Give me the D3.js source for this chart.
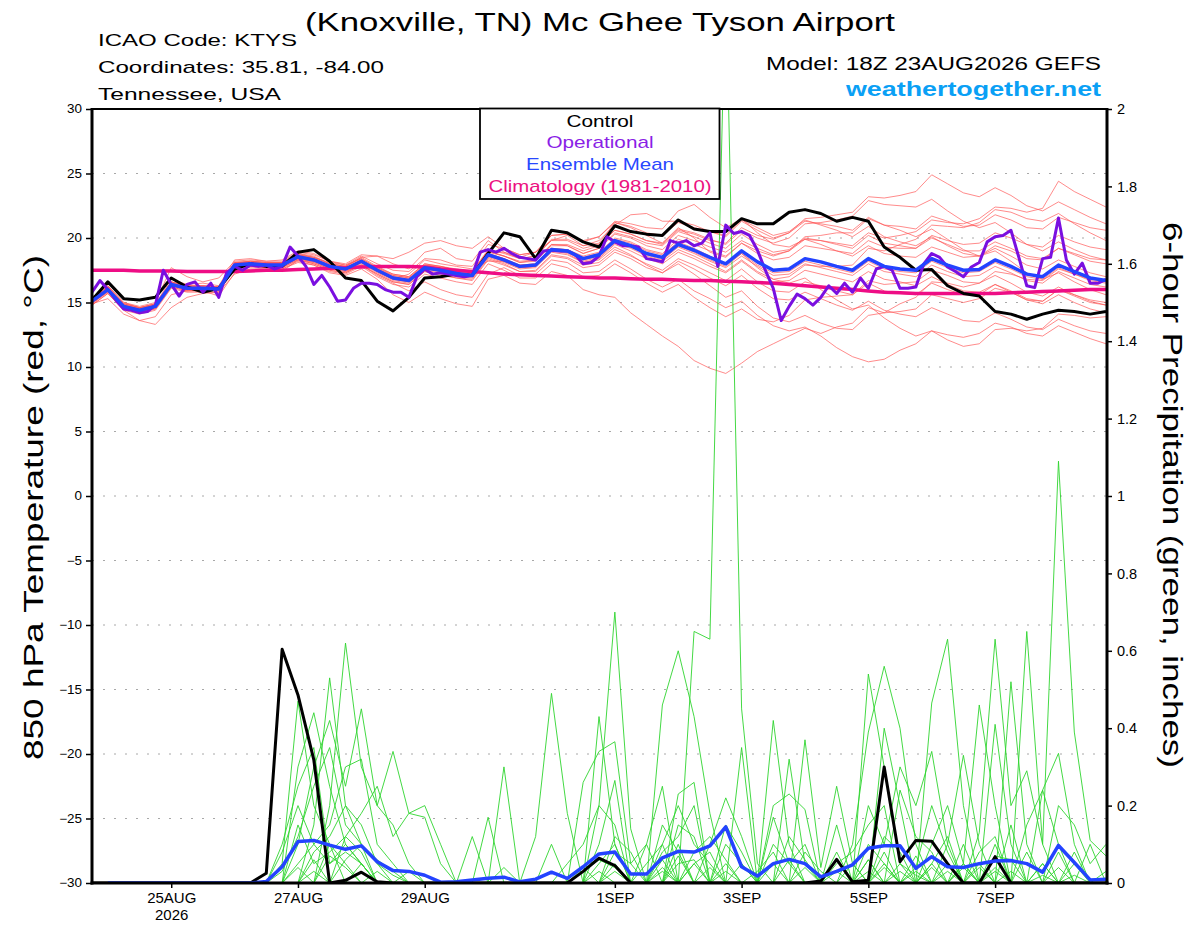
<!DOCTYPE html>
<html>
<head>
<meta charset="utf-8">
<script src="https://cdn.jsdelivr.net/npm/d3@7"></script>
<style>
  body { margin: 0; background: #fff; }
  svg { display: block; font-family: "Liberation Sans", Arial, sans-serif; }
</style>
</head>
<body>
<div id="chart"></div>
<script>
const width = 1200;
const height = 927;

// model run and time steps
const modelRun = Date.UTC(2026, 7, 23, 18);
const modelEnd = Date.UTC(2026, 8, 8, 18);
const stepHours = 6;
const opStepHours = 3;

const tempTicks = [-30, -25, -20, -15, -10, -5, 0, 5, 10, 15, 20, 25, 30];
const precipTicks = [0, 0.2, 0.4, 0.6, 0.8, 1, 1.2, 1.4, 1.6, 1.8, 2];
const dateTicks = ["2026-08-25", "2026-08-27", "2026-08-29", "2026-09-01", "2026-09-03", "2026-09-05", "2026-09-07"];

// 850 hPa temperature, 6-hourly
const controlTemp = [
  15.2,16.6,15.3,15.2,15.4,16.9,16.2,15.8,16.1,17.6,18.0,17.8,17.8,
  18.9,19.1,18.2,16.9,16.7,15.1,14.35,15.4,16.9,17.0,17.2,17.1,18.8,
  20.4,20.1,18.4,20.6,20.4,19.7,19.3,20.95,20.5,20.3,20.2,21.4,20.7,
  20.5,20.5,21.5,21.1,21.1,22.0,22.2,21.9,21.3,21.6,21.3,19.3,18.5,
  17.5,17.55,16.3,15.7,15.5,14.3,14.1,13.7,14.1,14.4,14.3,14.1,14.3
];
const meanTemp = [
  15.1,16.0,14.7,14.4,14.7,16.4,16.1,16.1,16.05,17.9,18.0,17.9,17.9,
  18.55,18.3,17.8,17.6,18.2,17.5,16.9,16.7,17.7,17.5,17.25,17.1,18.7,
  18.3,17.8,17.9,19.1,19.0,18.4,18.7,19.8,19.4,18.8,18.5,19.5,19.05,
  18.5,18.0,19.0,18.15,17.5,17.6,18.4,18.15,17.8,17.5,18.4,17.8,17.6,
  17.5,18.4,17.9,17.5,17.55,18.3,17.8,17.2,17.0,17.9,17.4,16.9,16.7
];
const climoTemp = [
  17.5,17.5,17.5,17.45,17.45,17.45,17.4,17.4,17.4,17.4,17.45,17.5,17.5,
  17.55,17.6,17.65,17.7,17.75,17.8,17.8,17.8,17.75,17.6,17.5,17.4,17.3,
  17.2,17.15,17.1,17.05,17.0,16.95,16.9,16.9,16.85,16.8,16.8,16.75,16.7,
  16.7,16.65,16.6,16.55,16.5,16.4,16.3,16.2,16.1,16.0,15.9,15.8,15.75,
  15.7,15.7,15.7,15.7,15.7,15.7,15.75,15.8,15.85,15.9,15.95,16.0,16.0
];
// operational run, 3-hourly (one row per day)
const operTemp = [
  15.8,16.7,16.0,15.2,14.5,14.4,14.2,14.3,
  14.8,17.5,16.4,15.5,16.4,16.6,15.8,16.5,
  15.4,17.3,17.8,17.5,17.9,17.8,17.9,17.6,
  17.8,19.3,18.6,17.8,16.4,17.1,16.2,15.1,
  15.2,16.1,16.5,16.5,16.4,16.0,15.8,15.8,
  15.4,17.0,17.6,17.2,17.3,17.2,17.1,17.0,
  17.1,18.9,19.1,18.9,19.2,18.8,18.5,18.4,
  18.3,19.0,19.05,19.0,19.0,18.7,18.0,18.1,
  18.6,20.1,19.7,19.4,19.4,19.3,18.4,18.3,
  18.15,19.8,19.6,19.8,19.4,19.6,20.4,17.8,
  21.0,20.35,20.5,20.2,19.05,17.5,16.1,13.6,
  14.7,15.65,15.3,14.8,15.4,16.3,15.7,16.5,
  15.8,16.9,16.1,17.6,17.8,17.5,16.1,16.1,
  16.2,18.0,18.8,18.5,17.75,17.4,17.0,17.75,
  18.1,19.7,20.1,20.2,20.6,18.5,16.3,16.15,
  18.4,18.5,21.55,18.3,17.2,18.05,16.5,16.5,
  16.8
];

const tempMembers = [
  [15.4,16.3,15.0,14.6,14.9,16.8,16.4,16.5,16.3,18.3,18.4,18.2,18.3,
   19.0,18.8,18.2,17.9,18.6,18.0,17.5,17.4,18.4,18.3,17.9,17.8,19.5,
   19.2,18.7,18.9,20.2,20.3,19.8,20.1,21.2,20.9,20.4,20.2,21.2,20.8,
   20.5,20.1,21.3,20.6,20.0,20.4,21.3,21.1,20.9,20.6,21.6,21.0,20.9,
   20.7,21.7,21.3,20.9,21.0,21.8,21.4,20.8,20.7,21.6,21.2,20.8,20.6],
  [14.8,15.7,14.4,13.6,13.3,14.6,15.4,15.7,15.8,17.2,17.6,17.5,17.6,
   18.1,17.9,17.3,17.1,17.6,16.8,15.6,15.0,15.8,15.3,14.9,14.7,16.8,
   17.1,16.5,16.4,17.4,17.1,16.0,15.6,15.4,14.2,13.3,12.4,11.6,10.5,
   9.9,9.5,10.3,11.2,11.8,12.4,13.0,12.6,13.1,13.4,14.6,14.2,14.3,
   14.5,15.6,15.3,15.0,15.3,16.1,15.8,15.2,15.1,16.0,15.6,15.2,15.0],
  [15.0,15.8,14.6,14.3,14.5,16.2,15.9,16.0,15.9,17.7,17.9,17.7,17.7,
   18.3,18.0,17.5,17.3,17.9,17.1,16.5,15.9,16.6,16.0,15.6,15.4,17.2,
   17.7,17.1,17.2,18.3,18.1,17.3,17.4,18.3,17.6,16.8,16.2,16.8,15.9,
   15.3,14.6,15.1,14.0,13.2,12.8,13.1,12.4,11.5,10.8,10.4,10.6,11.3,
   11.8,12.8,12.5,12.3,12.6,13.4,13.1,12.6,12.4,13.2,12.7,12.2,11.8],
  [15.2,16.1,14.9,14.6,14.8,16.5,16.2,16.3,16.2,18.1,18.1,18.0,18.1,
   18.8,18.5,18.0,17.8,18.5,18.6,18.0,17.6,18.9,19.2,18.4,18.2,19.8,
   18.9,18.4,18.6,19.8,19.8,19.2,19.5,20.6,20.3,19.8,19.5,20.6,20.3,
   19.8,19.6,20.8,20.2,19.9,20.4,21.5,21.6,21.8,22.0,23.2,23.1,23.3,
   23.6,24.9,24.2,23.5,23.2,23.9,23.3,22.5,22.1,22.8,22.2,21.6,21.1],
  [15.3,16.2,14.8,14.5,14.8,16.6,16.3,16.2,16.2,18.0,18.2,18.1,18.0,
   18.7,18.5,18.1,17.9,18.4,17.7,17.2,17.0,18.0,17.8,17.5,17.4,19.0,
   18.6,18.2,18.3,19.5,19.4,18.8,19.2,20.3,20.0,19.4,19.1,20.2,19.8,
   19.3,18.9,19.8,19.2,18.7,19.0,19.9,19.8,19.6,19.4,20.4,20.0,20.2,
   20.5,21.4,21.2,21.1,21.5,22.4,22.3,22.0,22.3,24.4,23.6,23.0,22.4],
  [14.9,15.3,14.1,13.6,13.9,15.6,15.9,15.9,15.5,17.3,17.8,17.7,17.4,
   18.3,18.1,17.6,17.4,17.9,17.2,16.6,16.4,17.4,17.2,16.9,16.8,18.4,
   18.0,17.4,17.5,18.7,18.5,17.9,18.1,19.1,18.6,18.0,17.5,18.4,17.9,
   17.3,16.7,17.6,16.6,15.9,15.8,16.6,16.3,15.9,15.6,16.5,15.9,15.7,
   15.6,16.5,16.0,15.6,15.6,16.4,15.9,15.3,15.1,16.0,15.5,15.0,14.8],
  [15.3,16.2,14.9,14.6,14.9,16.6,16.3,16.3,16.2,18.1,18.2,18.1,18.1,
   18.8,18.6,18.0,17.8,18.5,17.8,17.2,17.0,18.0,17.8,17.6,17.4,19.0,
   18.6,18.1,18.2,19.4,19.4,18.8,19.2,20.4,20.1,19.6,19.4,20.5,20.1,
   19.6,19.2,20.3,19.5,18.9,19.1,20.0,19.8,19.5,19.2,20.2,19.6,19.4,
   19.2,20.0,19.5,19.0,19.0,19.7,19.2,18.6,18.4,19.2,18.7,18.2,18.0],
  [15.0,15.9,14.6,14.3,14.6,16.3,16.0,16.0,16.0,17.8,17.9,17.8,17.8,
   18.4,18.2,17.7,17.5,18.1,17.4,16.8,16.6,17.6,17.4,17.1,17.0,18.6,
   18.2,17.7,17.8,19.0,18.8,18.1,18.3,19.3,18.7,17.9,17.3,18.0,17.2,
   16.3,15.4,15.9,14.7,13.8,13.5,14.0,13.4,13.0,12.9,14.0,14.2,14.9,
   15.4,16.6,16.5,16.2,16.5,17.4,17.2,16.8,16.7,17.6,17.2,16.8,16.6],
  [15.2,16.0,14.8,14.5,14.8,16.5,16.2,16.2,16.1,18.0,18.1,18.0,18.0,
   18.7,18.4,17.9,17.7,18.3,17.6,17.1,16.9,17.9,17.8,17.5,17.4,19.1,
   18.8,18.4,18.6,19.9,19.9,19.4,19.8,21.0,21.8,21.9,21.3,21.3,21.0,
   20.5,20.2,21.4,20.8,20.2,20.5,21.4,21.0,20.6,20.1,20.9,20.1,19.7,
   19.4,20.1,19.4,18.8,18.6,19.2,18.6,17.9,17.6,18.3,17.8,17.3,17.0],
  [14.9,15.8,14.5,14.2,14.5,16.2,15.9,15.9,15.9,17.7,17.8,17.7,17.7,
   18.3,18.0,17.5,17.3,17.9,17.2,16.6,16.4,17.4,17.1,16.9,16.7,18.3,
   17.9,17.4,17.4,18.6,18.4,17.7,17.9,18.9,18.4,17.7,17.3,18.2,17.6,
   16.9,16.3,17.1,16.1,15.3,15.2,15.8,15.3,14.8,14.4,15.1,14.4,14.1,
   13.9,14.6,14.1,13.6,13.5,14.2,13.7,13.1,12.9,13.7,13.2,12.8,12.6],
  [15.4,16.3,15.0,14.7,15.0,17.7,17.0,16.6,16.9,18.2,18.3,18.2,18.2,
   18.9,18.7,18.2,18.0,18.7,18.6,18.4,18.9,19.6,19.8,19.4,19.2,20.1,
   19.2,18.7,18.9,20.2,20.3,19.7,20.1,21.3,21.1,20.8,20.7,22.1,22.6,
   21.6,20.8,21.5,20.4,19.5,19.3,19.9,19.5,19.0,18.6,19.4,18.8,18.6,
   18.5,19.3,18.9,18.5,18.6,19.4,19.0,18.4,18.3,19.2,18.8,18.4,18.3],
  [15.1,16.0,14.7,14.4,14.7,16.4,16.1,16.1,16.0,17.9,18.0,17.9,17.9,
   18.5,18.3,17.8,17.6,18.2,17.5,16.9,16.7,17.7,17.5,17.2,17.1,18.7,
   18.3,17.8,17.9,19.1,19.0,18.4,18.7,19.8,19.4,18.8,18.4,19.4,18.9,
   18.3,17.8,18.8,17.9,17.3,17.4,18.2,17.9,17.6,17.3,18.2,17.6,17.4,
   17.3,18.2,17.7,17.3,17.4,18.1,17.6,17.0,16.8,17.7,17.2,16.7,16.5],
  [15.0,15.9,14.6,14.3,14.6,16.3,16.0,16.0,16.0,17.8,17.9,17.8,17.8,
   18.4,18.2,17.7,17.5,18.1,17.4,16.8,17.2,18.3,18.0,17.8,17.6,18.2,
   18.2,17.7,17.8,19.0,18.9,18.2,18.5,19.6,19.2,18.6,18.2,19.1,18.6,
   18.0,17.4,18.3,17.4,16.8,17.0,17.9,17.8,17.8,17.9,19.2,19.0,19.5,
   19.9,21.0,20.9,20.8,21.2,22.2,22.0,21.5,21.3,21.9,21.1,20.4,19.8],
  [15.1,16.0,14.7,14.4,14.7,16.4,16.1,16.1,16.1,17.9,18.0,17.9,17.9,
   18.6,18.3,17.8,17.6,18.2,17.5,16.9,16.7,17.7,17.5,17.3,17.2,18.8,
   18.4,17.9,18.0,19.2,19.1,18.5,18.8,19.9,19.6,19.0,18.7,19.7,19.2,
   18.6,18.0,18.8,17.7,16.8,16.5,16.9,16.0,15.2,14.5,14.8,13.8,13.0,
   12.4,12.8,12.1,11.6,11.8,12.9,13.0,12.8,13.0,14.1,14.0,13.8,13.9],
  [15.2,16.1,14.8,14.5,14.8,16.5,16.2,16.2,16.1,18.0,18.1,18.0,18.0,
   18.6,18.4,17.9,17.7,18.3,17.6,17.0,16.8,17.8,17.6,17.4,17.2,18.8,
   18.4,17.9,18.0,19.2,19.1,18.6,18.9,20.0,19.7,19.1,18.8,19.9,19.5,
   19.0,18.6,19.6,18.8,18.3,18.5,19.4,19.2,19.0,18.8,19.8,19.3,19.2,
   19.2,20.2,19.8,19.5,19.6,20.4,20.0,19.5,19.3,20.2,19.7,19.3,19.1],
  [14.8,15.7,14.4,14.1,14.4,16.1,15.8,15.8,15.8,17.6,17.7,17.6,17.6,
   18.2,17.9,17.4,17.2,17.8,17.0,16.4,16.2,17.2,16.9,16.6,16.4,18.0,
   17.5,16.9,16.9,18.0,17.7,17.0,17.1,18.0,17.3,16.5,15.8,16.4,15.4,
   14.6,13.9,14.5,13.7,13.5,14.0,15.2,15.4,15.5,15.6,16.7,16.4,16.5,
   16.6,17.5,17.1,16.6,16.5,17.1,16.5,15.8,15.5,16.2,15.6,15.1,14.8],
  [15.3,16.2,14.9,14.6,14.9,16.6,16.3,16.3,16.2,18.1,18.2,18.1,18.1,
   18.7,18.5,18.0,17.8,18.4,17.7,17.1,16.9,17.9,17.7,17.4,17.3,18.9,
   18.9,18.5,18.9,19.8,20.2,19.4,19.6,21.2,20.8,20.2,19.6,20.8,20.0,
   18.9,18.5,19.6,19.0,18.6,19.0,20.1,20.2,20.4,20.4,21.5,21.0,20.6,
   20.1,20.7,19.9,19.1,18.6,19.0,18.2,17.3,16.8,17.3,16.6,16.0,15.6],
  [15.0,15.9,14.6,14.3,14.6,16.3,16.0,16.0,15.9,17.8,17.9,17.8,17.8,
   18.4,18.1,17.6,17.4,18.0,17.3,16.7,16.5,17.5,17.3,17.0,16.9,18.5,
   18.1,17.6,17.7,18.9,18.7,18.1,18.4,19.5,19.0,18.4,18.0,18.9,18.4,
   17.8,17.3,18.2,17.3,16.6,16.7,17.5,17.2,16.9,16.6,17.4,16.8,16.6,
   16.3,17.0,16.4,15.9,15.8,16.4,15.8,15.2,14.9,15.6,15.0,14.5,14.2],
  [15.2,16.1,14.8,14.5,14.8,16.5,16.2,16.2,16.1,18.0,18.1,18.0,18.0,
   18.6,18.4,17.9,17.7,18.3,17.6,17.0,16.8,17.8,17.7,17.4,17.3,18.9,
   18.6,18.1,18.3,19.5,19.5,19.0,19.4,20.6,20.3,19.8,19.6,20.7,20.4,
   19.9,19.5,20.6,20.0,19.6,20.0,21.1,21.2,21.4,21.7,22.9,22.6,22.5,
   22.4,23.0,22.1,21.3,20.8,21.2,20.4,19.5,19.0,19.7,19.1,18.6,18.3],
  [14.9,15.9,14.6,14.3,14.6,16.3,16.0,16.0,16.0,17.8,17.9,17.8,17.8,
   18.4,18.2,17.7,17.5,18.1,17.4,16.8,16.6,17.6,17.4,17.1,17.0,18.6,
   18.2,17.7,17.8,19.0,18.9,18.3,18.6,19.7,19.3,18.7,18.3,19.3,18.8,
   18.2,17.7,18.6,17.8,17.1,17.2,18.0,17.7,17.4,17.1,18.0,17.4,17.2,
   17.0,17.9,17.4,17.0,17.1,17.8,17.3,16.7,16.5,17.4,16.9,16.4,16.2]
];

// 6-hour precipitation (inches)
const controlPrecip = [
  0,0,0,0,0,0,0,0,0,0,0,.025,.604,
  .486,.318,0,.007,.028,.003,0,0,0,0,0,0,0,
  0,0,0,0,0,.03,.064,.045,0,0,0,0,0,
  0,0,0,0,0,0,0,.005,.061,.003,.007,.3,.055,
  .11,.108,.05,0,0,.068,0,0,0,0,0,0,0
];
const meanPrecip = [
  null,0,0,0,0,0,0,0,0,0,0,.004,.042,
  .107,.11,.098,.087,.096,.055,.032,.03,.02,.002,.003,.008,.012,
  .015,.003,.01,.028,.012,.042,.075,.08,.023,.023,.065,.082,.08,
  .096,.145,.042,.018,.05,.061,.05,.016,.03,.047,.09,.096,.096,
  .038,.068,.042,.04,.05,.057,.058,.05,.028,.097,.053,.008,.01
];
const precipMembers = [
  [0,0,0,0,0,0,0,0,0,0,0,0,.05,
   .47,.2,.1,.05,0,0,0,0,0,0,0,0,0,
   .3,0,0,.1,0,0,.2,.7,.14,0,.1,0,0,
   0,0,.35,0,.42,.1,0,0,.15,0,.54,.3,.05,
   0,0,.1,0,0,.41,.1,0,0,0,0,0,0],
  [0,0,0,0,0,0,0,0,0,0,0,0,0,
   .3,.44,.25,.1,.05,0,0,0,0,0,0,0,.17,
   0,0,.12,.49,.18,0,.43,.1,0,0,0,.23,.26,
   0,0,0,0,0,.32,.05,0,0,.1,.39,.56,.4,
   .1,0,0,.05,.46,.2,0,0,.24,.1,0,0,0],
  [0,0,0,0,0,0,0,0,0,0,0,0,0,
   0,.15,.53,.2,.1,0,0,0,0,0,0,.12,0,
   0,0,0,0,0,.26,.34,.365,.05,0,.46,.6,.43,
   .18,0,0,0,0,0,.37,.04,.25,.05,0,.4,.2,
   0,.465,.63,.2,0,0,.52,.1,0,0,0,0,0],
  [0,0,0,0,0,0,0,0,0,0,0,0,0,
   0,0,.2,.62,.3,.2,.15,.05,0,0,0,0,0,
   0,0,0,0,0,0,.1,.265,0,.1,.25,0,.65,
   .63,2.35,.45,.05,0,0,0,0,0,0,.2,.1,.3,
   .2,.34,.1,.33,.1,0,0,.65,.1,0,0,0,0],
  [0,0,0,0,0,0,0,0,0,0,0,0,0,
   .1,.3,.42,.25,.45,.2,.34,.18,.2,.1,0,0,0,
   0,0,0,0,.05,.1,.2,.15,0,0,0,.1,0,
   .1,.22,.12,0,.2,.23,.19,0,0,0,0,0,.24,
   .12,.08,0,0,.13,.63,.2,.29,.1,1.09,.39,.11,.07],
  [0,0,0,0,0,0,0,0,0,0,0,0,.08,
   .2,.1,.15,.3,.32,.1,.05,0,0,0,0,0,0,
   0,0,0,0,0,0,0,.08,.05,.1,0,.15,.12,
   0,0,0,0,.17,.05,.1,0,.05,.08,.15,.2,0,
   .04,.2,.08,0,0,.1,0,.15,.24,.335,.1,0,0],
  [0,0,0,0,0,0,0,0,0,0,0,0,0,
   .15,.05,.08,.12,.18,.25,.12,.18,.17,.05,0,0,0,
   0,0,0,0,0,0,.05,.1,0,0,.08,.12,.2,
   0,.1,.05,0,0,0,0,0,0,0,.1,.05,0,
   0,.1,.2,.05,0,0,.15,0,0,.2,.15,.05,.1],
  [0,0,0,0,0,0,0,0,0,0,0,0,.1,
   .25,.35,.05,.1,.05,0,0,0,0,0,0,0,0,
   0,0,0,0,0,0,0,.12,.08,0,.15,.08,0,
   0,.05,0,.03,.08,0,0,0,0,.05,0,.12,.08,
   0,0,.05,0,.08,.12,0,0,.05,0,.08,0,0],
  [0,0,0,0,0,0,0,0,0,0,0,0,0,
   0,.08,.12,.2,.15,.05,0,0,0,0,0,0,0,
   0,0,0,0,0,0,0,0,0,.05,.1,.2,.1,
   .05,0,0,0,0,.12,.06,0,.08,0,.06,0,0,
   .07,0,0,.1,0,.07,.06,0,0,.08,0,.1,0],
  [0,0,0,0,0,0,0,0,0,0,0,0,.03,
   .12,.25,.35,.15,.1,.05,.02,0,0,0,0,0,0,
   0,0,0,0,0,.03,.06,.04,0,0,0,0,.08,
   .12,.06,0,0,.1,.05,0,0,0,0,0,.08,0,
   0,.05,.12,0,.05,0,0,.08,0,0,.05,0,.03],
  [0,0,0,0,0,0,0,0,0,0,0,0,0,
   0,0,0,.06,.1,.06,.03,0,0,0,0,0,0,
   0,0,0,0,0,0,0,0,0,0,0,.05,.06,
   0,.15,.08,0,0,0,0,0,0,0,0,0,.05,
   .02,0,0,.05,0,.04,0,0,.05,0,0,0,0],
  [0,0,0,0,0,0,0,0,0,0,0,0,0,
   .05,.1,.05,.08,.05,0,0,0,0,0,0,0,0,
   0,0,0,0,0,0,0,0,0,0,.03,0,.05,
   .08,0,0,0,0,0,.08,.03,0,0,.03,0,0,
   0,.04,0,0,0,0,.03,0,0,.04,0,0,0],
  [0,0,0,0,0,0,0,0,0,0,0,0,0,
   0,.06,0,.12,.08,0,0,0,0,0,0,0,0,
   .04,0,0,0,0,0,0,.05,0,0,.06,0,0,
   0,0,.05,0,0,.06,0,0,0,0,0,.04,0,
   0,.05,0,0,0,.03,0,0,0,0,0,0,0],
  [0,0,0,0,0,0,0,0,0,0,0,0,0,
   .04,0,.1,0,0,.03,0,0,0,0,0,0,0,
   0,0,0,0,0,.04,0,0,0,0,0,.07,0,
   .04,0,0,0,.05,0,0,0,0,0,.06,0,0,
   .03,0,0,.04,0,0,0,0,0,0,0,0,0],
  [0,0,0,0,0,0,0,0,0,0,0,0,0,
   0,0,.07,.04,0,0,0,.03,0,0,0,0,0,
   0,0,0,0,0,0,0,.03,0,0,0,0,.05,
   0,0,0,0,0,0,.04,0,0,0,0,.05,0,
   0,0,.03,0,0,0,0,0,.02,0,0,0,0],
  [0,0,0,0,0,0,0,0,0,0,0,0,0,
   0,.03,0,0,.05,0,0,0,0,0,0,0,0,
   0,0,0,0,0,0,.03,0,0,0,.04,0,0,
   0,.03,0,0,0,0,0,0,.03,0,0,0,.03,
   0,0,0,0,.04,0,0,0,0,0,.02,0,0]
];

const colors = {
  member: "#ff5252",
  precipMember: "#2fd52f",
  control: "#000000",
  oper: "#7a0fe0",
  mean: "#2343ff",
  climo: "#ee0d85",
  grid: "#a8a8a8",
  site: "#0aa0f5"
};

const plot = { left: 92, right: 1107, top: 109, bottom: 883 };
const hour = 3600 * 1000;

const svg = d3.select("#chart")
  .append("svg")
  .attr("width", width)
  .attr("height", height);

svg.append("rect")
  .attr("width", width)
  .attr("height", height)
  .attr("fill", "white");

const x = d3.scaleUtc()
  .domain([modelRun, modelEnd])
  .range([plot.left, 1106]);
const yT = d3.scaleLinear().domain([-30, 30]).range([plot.bottom, plot.top]);
const yP = d3.scaleLinear().domain([0, 2]).range([plot.bottom, plot.top]);

function stepLine(y, step) {
  return d3.line()
    .defined(d => d != null)
    .x((d, i) => x(modelRun + i * step * hour))
    .y(d => y(d));
}

// grid
svg.append("g")
  .selectAll("line")
  .data(tempTicks.filter(t => t > -30 && t < 30))
  .enter().append("line")
  .attr("x1", plot.left)
  .attr("x2", plot.right)
  .attr("y1", d => yT(d))
  .attr("y2", d => yT(d))
  .attr("stroke", colors.grid)
  .attr("stroke-width", 1)
  .attr("stroke-dasharray", "2,9");

svg.append("clipPath")
  .attr("id", "plotClip")
  .append("rect")
  .attr("x", plot.left)
  .attr("y", plot.top)
  .attr("width", plot.right - plot.left)
  .attr("height", plot.bottom - plot.top);

const g = svg.append("g").attr("clip-path", "url(#plotClip)");

g.selectAll(".tmember")
  .data(tempMembers)
  .enter().append("path")
  .attr("class", "tmember")
  .attr("d", stepLine(yT, stepHours))
  .attr("fill", "none")
  .attr("stroke", colors.member)
  .attr("stroke-opacity", 0.75)
  .attr("stroke-width", 0.9);

g.selectAll(".pmember")
  .data(precipMembers)
  .enter().append("path")
  .attr("class", "pmember")
  .attr("d", stepLine(yP, stepHours))
  .attr("fill", "none")
  .attr("stroke", colors.precipMember)
  .attr("stroke-width", 0.9);

g.append("path")
  .datum(controlPrecip)
  .attr("d", stepLine(yP, stepHours))
  .attr("fill", "none")
  .attr("stroke", colors.control)
  .attr("stroke-width", 3)
  .attr("stroke-linejoin", "round");

g.append("path")
  .datum(meanPrecip)
  .attr("d", stepLine(yP, stepHours))
  .attr("fill", "none")
  .attr("stroke", colors.mean)
  .attr("stroke-width", 3.5)
  .attr("stroke-linejoin", "round");

g.append("path")
  .datum(climoTemp)
  .attr("d", stepLine(yT, stepHours))
  .attr("fill", "none")
  .attr("stroke", colors.climo)
  .attr("stroke-width", 3.5);

g.append("path")
  .datum(controlTemp)
  .attr("d", stepLine(yT, stepHours))
  .attr("fill", "none")
  .attr("stroke", colors.control)
  .attr("stroke-width", 3)
  .attr("stroke-linejoin", "round");

g.append("path")
  .datum(operTemp)
  .attr("d", stepLine(yT, opStepHours))
  .attr("fill", "none")
  .attr("stroke", colors.oper)
  .attr("stroke-width", 3)
  .attr("stroke-linejoin", "round");

g.append("path")
  .datum(meanTemp)
  .attr("d", stepLine(yT, stepHours))
  .attr("fill", "none")
  .attr("stroke", colors.mean)
  .attr("stroke-width", 3.5)
  .attr("stroke-linejoin", "round");

// axes
const leftAxis = svg.append("g")
  .attr("transform", `translate(${plot.left},0)`)
  .call(d3.axisLeft(yT).tickValues(tempTicks).tickSize(6).tickSizeOuter(0));
leftAxis.select(".domain").remove();
leftAxis.selectAll("line").attr("stroke-width", 1.5);
leftAxis.selectAll("text")
  .attr("font-size", 12)
  .attr("fill", "#000")
  .each(function() {
    const w = this.getComputedTextLength() * 1.12;
    d3.select(this)
      .attr("text-anchor", "start")
      .attr("x", -10 - w)
      .attr("textLength", w)
      .attr("lengthAdjust", "spacingAndGlyphs");
  });

const rightAxis = svg.append("g")
  .attr("transform", `translate(${plot.right},0)`)
  .call(d3.axisRight(yP).tickValues(precipTicks).tickSize(5).tickPadding(5).tickSizeOuter(0)
    .tickFormat(d => String(d)));
rightAxis.select(".domain").remove();
rightAxis.selectAll("line").attr("stroke-width", 1.5);
rightAxis.selectAll("text").attr("font-size", 14.5).attr("fill", "#000");

const dayFmt = d3.utcFormat("%-d%b");
const bottomAxis = svg.append("g")
  .attr("transform", `translate(0,${plot.bottom})`)
  .call(d3.axisBottom(x)
    .tickValues(dateTicks.map(d => new Date(d + "T00:00:00Z")))
    .tickSize(5)
    .tickSizeOuter(0)
    .tickFormat(d => dayFmt(d).toUpperCase()));
bottomAxis.select(".domain").remove();
bottomAxis.selectAll("line").attr("stroke-width", 1.5);
bottomAxis.selectAll("text")
  .attr("font-size", 15)
  .attr("fill", "#000")
  .attr("y", 20)
  .attr("dy", null);
bottomAxis.select(".tick text")
  .append("tspan")
  .attr("x", 0)
  .attr("dy", 17)
  .text("2026");

// frame
const frame = svg.append("g").attr("stroke", "#000").attr("fill", "none");
frame.append("line").attr("x1", plot.left).attr("x2", plot.left)
  .attr("y1", plot.top - 1).attr("y2", plot.bottom + 1.5).attr("stroke-width", 3);
frame.append("line").attr("x1", plot.right).attr("x2", plot.right)
  .attr("y1", plot.top - 1).attr("y2", plot.bottom + 1.5).attr("stroke-width", 3);
frame.append("line").attr("x1", plot.left - 1.5).attr("x2", plot.right + 1.5)
  .attr("y1", plot.bottom).attr("y2", plot.bottom).attr("stroke-width", 3);
frame.append("line").attr("x1", plot.left).attr("x2", plot.right)
  .attr("y1", plot.top).attr("y2", plot.top).attr("stroke-width", 2);

// legend
const legendItems = [
  { label: "Control", color: "#000", w: 67 },
  { label: "Operational", color: "#8a1ee6", w: 107 },
  { label: "Ensemble Mean", color: "#2848ff", w: 148 },
  { label: "Climatology (1981-2010)", color: "#ec1080", w: 223 }
];
svg.append("rect")
  .attr("x", 480)
  .attr("y", 108.5)
  .attr("width", 239.5)
  .attr("height", 90.5)
  .attr("fill", "white")
  .attr("stroke", "#000")
  .attr("stroke-width", 1.8);
svg.selectAll(".legend-text")
  .data(legendItems)
  .enter().append("text")
  .attr("class", "legend-text")
  .attr("x", d => 600 - d.w / 2)
  .attr("y", (d, i) => 126.5 + i * 21.7)
  .attr("font-size", 17)
  .attr("fill", d => d.color)
  .attr("textLength", d => d.w)
  .attr("lengthAdjust", "spacingAndGlyphs")
  .text(d => d.label);

// header texts
function addText(txt, px, py, size, w, opts = {}) {
  return svg.append("text")
    .attr("x", px)
    .attr("y", py)
    .attr("font-size", size)
    .attr("font-weight", opts.bold ? "bold" : null)
    .attr("fill", opts.color || "#000")
    .attr("textLength", w)
    .attr("lengthAdjust", "spacingAndGlyphs")
    .text(txt);
}

addText("(Knoxville, TN) Mc Ghee Tyson Airport", 305, 31, 26.5, 590);
addText("ICAO Code: KTYS", 98, 46, 17, 199);
addText("Coordinates: 35.81, -84.00", 98, 73, 17, 286);
addText("Tennessee, USA", 98, 99.5, 17, 183);
addText("Model: 18Z 23AUG2026 GEFS", 766, 70, 17.5, 335);
addText("weathertogether.net", 846, 96, 21, 255, { bold: true, color: colors.site });

// axis titles
svg.append("text")
  .attr("transform", "translate(43,760) rotate(-90)")
  .attr("font-size", 28)
  .attr("textLength", 505)
  .attr("lengthAdjust", "spacingAndGlyphs")
  .text("850 hPa Temperature (red, \u00B0C)");

svg.append("text")
  .attr("transform", "translate(1163,222) rotate(90)")
  .attr("font-size", 28)
  .attr("textLength", 546)
  .attr("lengthAdjust", "spacingAndGlyphs")
  .text("6-hour Precipitation (green, inches)");
</script>
</body>
</html>
